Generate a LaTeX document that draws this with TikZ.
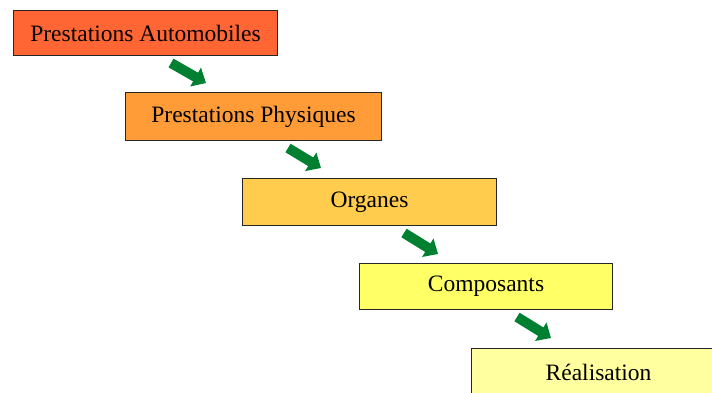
\documentclass[tikz,border=0pt]{standalone}
\usepackage{fontspec}
\setmainfont{Liberation Serif}
\usetikzlibrary{arrows.meta}
\definecolor{boxa}{RGB}{255,102,51}
\definecolor{boxb}{RGB}{255,156,56}
\definecolor{boxc}{RGB}{255,204,77}
\definecolor{boxd}{RGB}{255,255,102}
\definecolor{boxe}{RGB}{255,255,160}
\definecolor{arrgreen}{RGB}{0,128,48}
\begin{document}
\begin{tikzpicture}[x=1pt, y=-1pt,
  stage/.style={draw=black!85, line width=1.1pt, anchor=north west, inner sep=0pt,
    minimum height=46pt, font=\fontsize{23.5}{28}\selectfont},
  flow/.style={draw=arrgreen, line width=10pt, -{Triangle[length=12pt, width=21pt]}}]
  \useasboundingbox (0,0) rectangle (712,392);
  \clip (0,0) rectangle (712,392);
  \node[stage, fill=boxa, minimum width=264pt, minimum height=45pt] (pa) at (13,10) {Prestations Automobiles};
  \node[stage, fill=boxb, minimum width=256pt, minimum height=48pt] (pp) at (125,92) {Prestations Physiques};
  \node[stage, fill=boxc, minimum width=254pt, minimum height=47pt] (org) at (242,178) {Organes};
  \node[stage, fill=boxd, minimum width=253pt] (comp) at (359,263) {Composants};
  \node[stage, fill=boxe, minimum width=254pt, minimum height=47pt] (real) at (471,348) {Réalisation};
  \coordinate (f1s) at ([shift={(46,-29)}]pp.north west);
  \coordinate (f1e) at ([shift={(81,-9)}]pp.north west);
  \coordinate (f2s) at ([shift={(46,-30)}]org.north west);
  \coordinate (f2e) at ([shift={(79,-10)}]org.north west);
  \coordinate (f3s) at ([shift={(45,-30)}]comp.north west);
  \coordinate (f3e) at ([shift={(79,-9)}]comp.north west);
  \coordinate (f4s) at ([shift={(46,-31)}]real.north west);
  \coordinate (f4e) at ([shift={(80,-10)}]real.north west);
  \draw[flow] (f1s) -- (f1e);
  \draw[flow] (f2s) -- (f2e);
  \draw[flow] (f3s) -- (f3e);
  \draw[flow] (f4s) -- (f4e);
\end{tikzpicture}
\end{document}
